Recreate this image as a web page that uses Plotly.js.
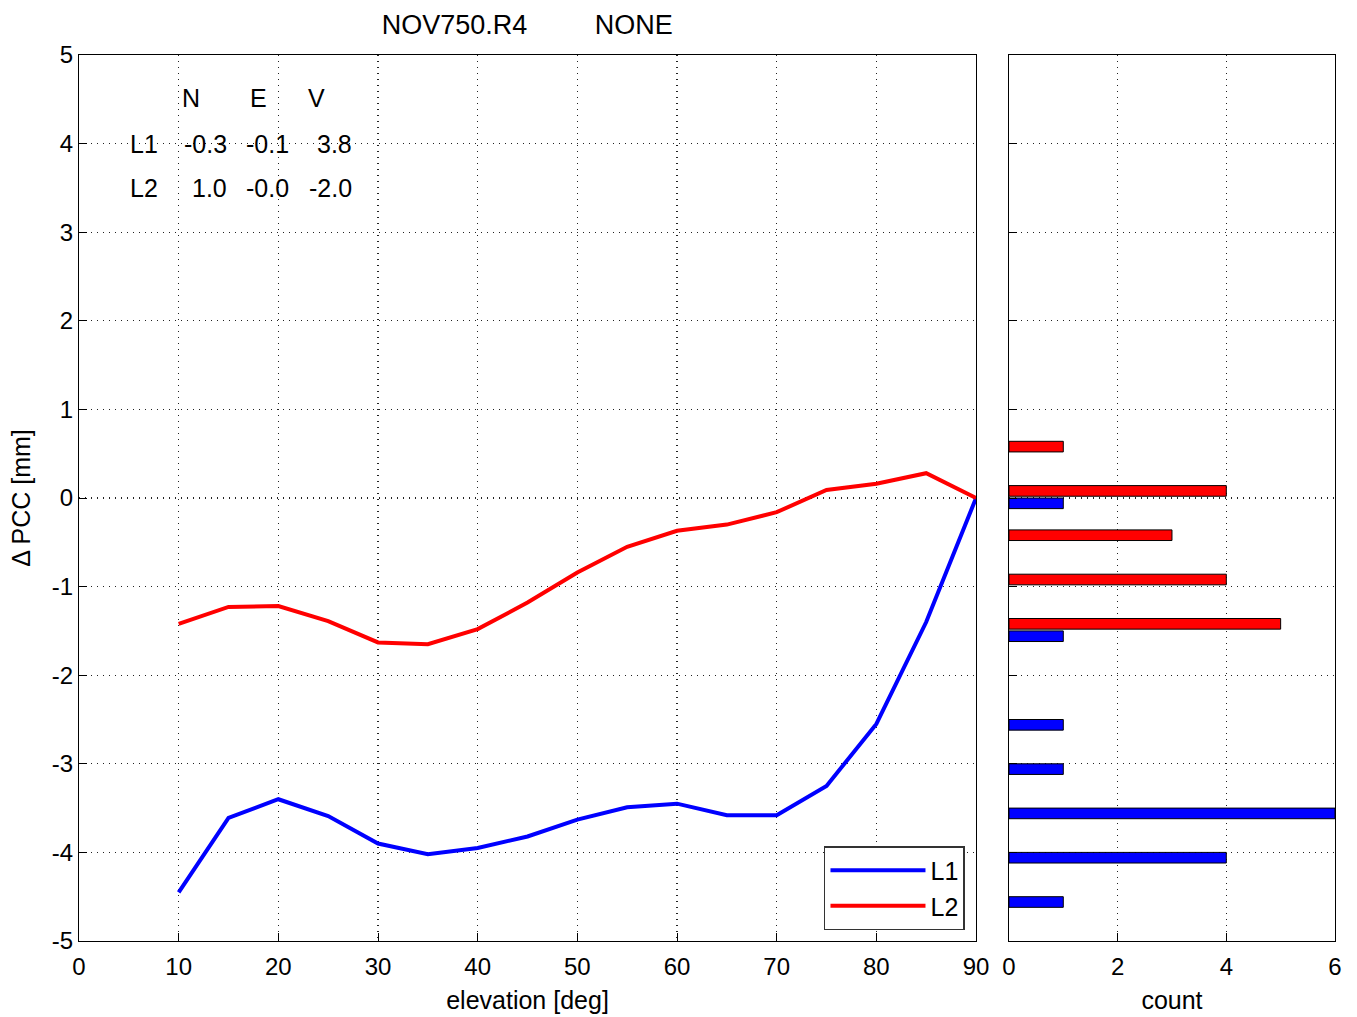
<!DOCTYPE html>
<html><head><meta charset="utf-8">
<script src="https://cdn.plot.ly/plotly-3.0.1.min.js"></script>
<style>html,body{margin:0;padding:0;background:#fff}</style>
</head><body>
<div id="chart" style="width:1357px;height:1017px"></div>
<script>
const elevation = [10,15,20,25,30,35,40,45,50,55,60,65,70,75,80,85,90];
const pccL1 = [-4.45,-3.61,-3.40,-3.59,-3.90,-4.02,-3.95,-3.82,-3.63,-3.49,-3.45,-3.58,-3.58,-3.25,-2.55,-1.40,0];
const pccL2 = [-1.42,-1.23,-1.22,-1.39,-1.63,-1.65,-1.48,-1.18,-0.84,-0.55,-0.37,-0.30,-0.16,0.09,0.16,0.28,0];

const histL1Pos = [-0.06,-1.56,-2.56,-3.06,-3.56,-4.06,-4.56];
const histL1Count = [1,1,1,1,6,4,1];
const histL2Pos = [0.58,0.08,-0.42,-0.92,-1.42];
const histL2Count = [1,4,3,4,5];

const yTickVals = [-5,-4,-3,-2,-1,0,1,2,3,4,5];
const yTickText = ['-5','-4','-3','-2','-1','0','1','2','3','4','5'];

const tableHeader = ['N','E','V'];
const tableRows = ['L1','L2'];
const tableValues = [['-0.3','-0.1','3.8'],['1.0','-0.0','-2.0']];

const titleText = 'NOV750.R4' + '&nbsp;'.repeat(9) + 'NONE';

const FONT = 'Liberation Sans, Arial, sans-serif';
const traces = [
  {x: elevation, y: pccL1, type:'scatter', mode:'lines', name:'L1', line:{color:'#0000ff', width:4}, xaxis:'x', yaxis:'y'},
  {x: elevation, y: pccL2, type:'scatter', mode:'lines', name:'L2', line:{color:'#ff0000', width:4}, xaxis:'x', yaxis:'y'},
  {x: histL2Count, y: histL2Pos, type:'bar', orientation:'h', width:0.12, marker:{color:'#ff0000', line:{color:'#000', width:1}}, showlegend:false, xaxis:'x2', yaxis:'y2'},
  {x: histL1Count, y: histL1Pos, type:'bar', orientation:'h', width:0.12, marker:{color:'#0000ff', line:{color:'#000', width:1}}, showlegend:false, xaxis:'x2', yaxis:'y2'}
];

const colX = [11.2, 18.0, 23.8];
const valX = [15.0, 21.3, 27.6];
const rowY = [4.0, 3.5];
const annotations = [];
tableHeader.forEach((h,i)=>annotations.push({x:colX[i], y:4.51, xref:'x', yref:'y', text:h, showarrow:false, xanchor:'center', font:{size:25, family:FONT, color:'#000'}}));
tableRows.forEach((r,j)=>{
  annotations.push({x:6.5, y:rowY[j], xref:'x', yref:'y', text:r, showarrow:false, xanchor:'center', font:{size:25, family:FONT, color:'#000'}});
  tableValues[j].forEach((v,i)=>annotations.push({x:valX[i], y:rowY[j], xref:'x', yref:'y', text:v, showarrow:false, xanchor:'right', font:{size:25, family:FONT, color:'#000'}}));
});

const axCommon = {showline:true, mirror:true, linecolor:'#000', linewidth:1, ticks:'inside', ticklen:8, tickcolor:'#000',
  showgrid:true, gridcolor:'#222', griddash:'1px,5px', gridwidth:1.2, zeroline:false, tickfont:{size:24, family:FONT, color:'#000'}};

const layout = {
  width:1357, height:1017, paper_bgcolor:'#fff', plot_bgcolor:'#fff',
  margin:{l:79, r:22, t:55, b:76},
  font:{family:FONT, color:'#000'},
  title:{text:titleText, x:0.3885, xanchor:'center', y:0.976, yanchor:'middle', font:{size:27, family:FONT, color:'#000'}},
  showlegend:true,
  legend:{x:0.7054, y:0.0124, xanchor:'right', yanchor:'bottom', bgcolor:'#fff', bordercolor:'#333', borderwidth:1.5,
    font:{size:25, family:FONT, color:'#000'}, itemwidth:95, tracegroupgap:0},
  xaxis: Object.assign({}, axCommon, {domain:[0,0.7142], range:[0,90], dtick:10, tick0:0, ticklabelstandoff:4,
    title:{text:'elevation [deg]', font:{size:25, family:FONT, color:'#000'}, standoff:12}}),
  yaxis: Object.assign({}, axCommon, {domain:[0,1], range:[-5,5], tickvals:yTickVals, ticktext:yTickText,
    title:{text:'Δ PCC [mm]', font:{size:25, family:FONT, color:'#000'}, standoff:14}}),
  xaxis2: Object.assign({}, axCommon, {domain:[0.7404,1], range:[0,6], dtick:2, tick0:0, anchor:'y2', ticklabelstandoff:4,
    title:{text:'count', font:{size:25, family:FONT, color:'#000'}, standoff:12}}),
  yaxis2: Object.assign({}, axCommon, {domain:[0,1], range:[-5,5], dtick:1, tick0:0, anchor:'x2', showticklabels:false}),
  bargap:0, barmode:'overlay',
  annotations: annotations
};
Plotly.newPlot('chart', traces, layout, {displayModeBar:false, staticPlot:true});
</script>
</body></html>
